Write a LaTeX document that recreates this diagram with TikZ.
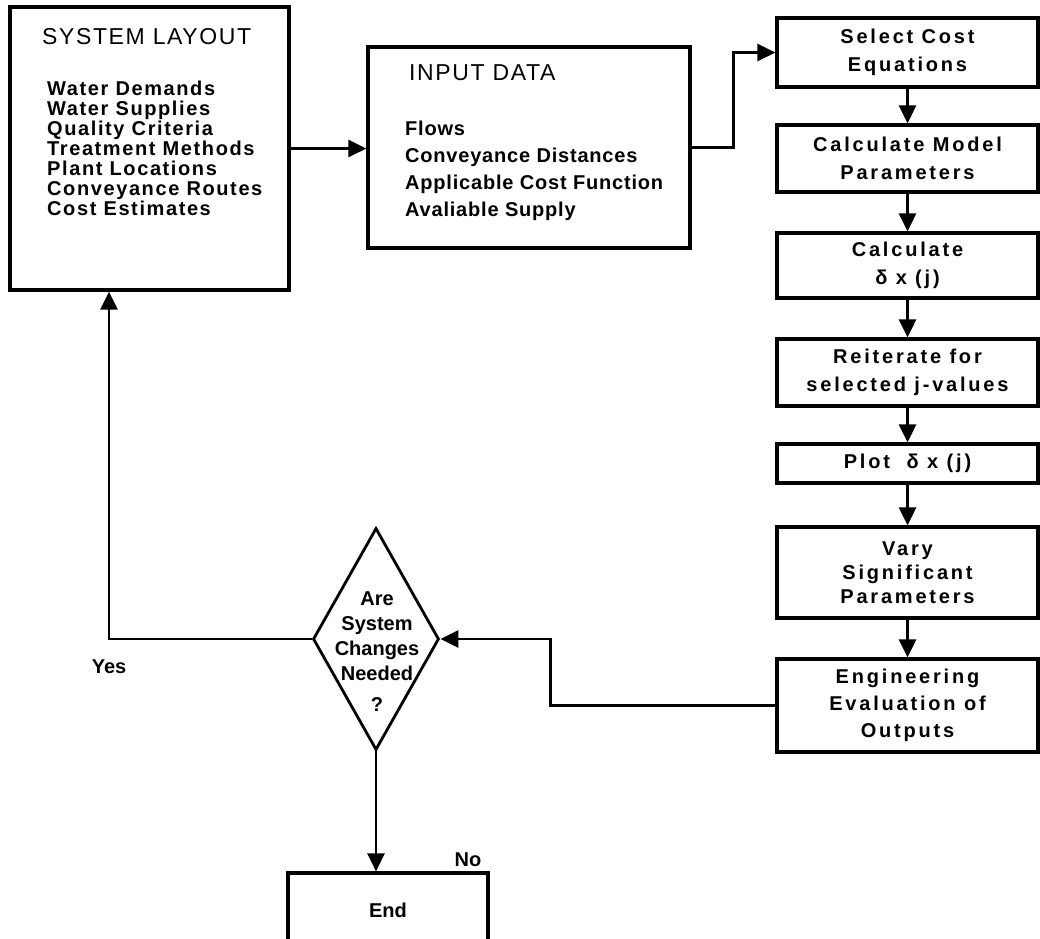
\documentclass[tikz,border=0pt]{standalone}
\usepackage{fontspec}
\setmainfont{Liberation Sans}
\newfontfamily\fN{Liberation Sans}
\newfontfamily\fA[LetterSpace=8]{Liberation Sans}
\newfontfamily\fB[LetterSpace=14]{Liberation Sans}
\newfontfamily\fC[LetterSpace=4]{Liberation Sans}
\newfontfamily\fT[LetterSpace=7]{Liberation Sans}
\usetikzlibrary{arrows.meta,shapes.geometric,calc}
\begin{document}
\begin{tikzpicture}[x=1pt,y=-1pt,
  box/.style={draw, line width=3.2pt, inner sep=0pt},
  rbox/.style={box, minimum width=261pt, align=center, font=\fB\bfseries\fontsize{20}{28}\selectfont},
  arr/.style={line width=2.8pt, -{Triangle[length=18pt,width=17pt]}},
  lbl/.style={font=\fN\bfseries\fontsize{20}{24}\selectfont, inner sep=0pt},
  title/.style={anchor=west, inner sep=0pt, font=\fT\fontsize{23}{23}\selectfont},
  body/.style={anchor=north west, inner sep=0pt, align=left}]
\clip (0,0) rectangle (1040,938);
\fill[white] (0,0) rectangle (1040,938);

% System layout
\node[box, minimum width=279pt, minimum height=283pt] (sys) at (149.5,148.5) {};
\node[title] (systitle) at (42,37) {SYSTEM LAYOUT};
\node[body, font=\fA\bfseries\fontsize{20}{20}\selectfont] (sysbody) at (47,81)
  {Water Demands\\Water Supplies\\Quality Criteria\\Treatment Methods\\Plant Locations\\Conveyance Routes\\Cost Estimates};

% Input data
\node[box, minimum width=322pt, minimum height=201pt] (inp) at (529,147.5) {};
\node[title] (inptitle) at (409,73) {INPUT DATA};
\node[body, font=\fC\bfseries\fontsize{20}{27}\selectfont] (inpbody) at (405,121)
  {Flows\\Conveyance Distances\\Applicable Cost Function\\Avaliable Supply};

% Right column
\node[rbox, minimum height=69pt] (sel) at (907.5,52.5) {Select Cost\\Equations};
\node[rbox, minimum height=67pt] (cm) at (907.5,158.5) {Calculate Model\\Parameters};
\node[rbox, minimum height=65pt] (cd) at (907.5,265.5) {Calculate\\δ x (j)};
\node[rbox, minimum height=67pt] (rit) at (907.5,372.5) {Reiterate for\\selected j-values};
\node[rbox, minimum height=39pt] (plot) at (907.5,463.5) {Plot~~δ x (j)};
\node[rbox, minimum height=91pt, font=\fB\bfseries\fontsize{20}{24}\selectfont] (vary) at (907.5,572.5) {Vary\\Significant\\Parameters};
\node[rbox, minimum height=93pt, font=\fB\bfseries\fontsize{20}{27}\selectfont] (eng) at (907.5,705.5) {Engineering\\Evaluation of\\Outputs};

% Decision
\node[draw, diamond, line width=2.8pt, minimum width=126pt, minimum height=222pt, inner sep=0pt] (dec) at (376,639) {};
\node[align=center, inner sep=0pt, font=\fN\bfseries\fontsize{20}{25}\selectfont] (dectxt) at (377,652) {Are\\System\\Changes\\Needed\\[6pt]?};

% End
\node[box, minimum width=200pt, minimum height=74pt, font=\fN\bfseries\fontsize{20}{24}\selectfont] (end) at (388,910) {End};

% Labels
\node[lbl] (yes) at (109,667) {Yes};
\node[lbl] (no) at (468,860) {No};

% Connectors
\draw[arr] (sys.east) -- (sys.east -| inp.west);
\draw[arr] (inp.east) -- ++(42,0) |- (sel.west);
\draw[arr] (sel.south) -- (cm.north);
\draw[arr] (cm.south) -- (cd.north);
\draw[arr] (cd.south) -- (rit.north);
\draw[arr] (rit.south) -- (plot.north);
\draw[arr] (plot.south) -- (vary.north);
\draw[arr] (vary.south) -- (eng.north);
\draw[arr] (eng.west) -- ++(-225,0) |- (dec.east);
\draw[arr] (dec.west) -| ([xshift=-40.5pt]sys.south);
\draw[arr] (dec.south) -- (dec.south |- end.north);
\end{tikzpicture}
\end{document}
